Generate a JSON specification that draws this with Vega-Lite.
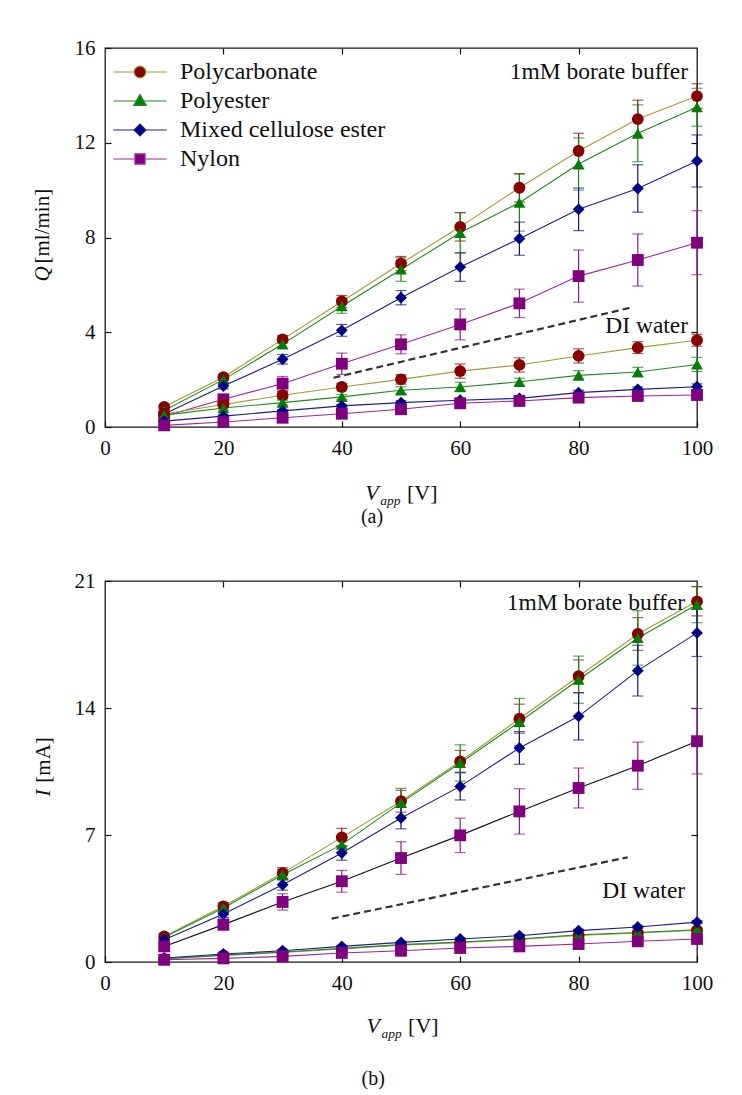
{
  "$schema": "https://vega.github.io/schema/vega-lite/v6.json",
  "padding": {"left": 31, "top": 36, "right": 10, "bottom": 5},
  "background": "white",
  "config": {
    "font": "Liberation Serif",
    "view": {"stroke": "#1a1a1a", "strokeWidth": 1.3},
    "axis": {"domain": false, "grid": false, "labelFont": "Liberation Serif", "labelFontSize": 21, "labelColor": "#111", "tickColor": "#111", "tickSize": -6, "tickWidth": 1.2, "labelPadding": 16, "labelFlush": false},
    "text": {"font": "Liberation Serif", "color": "#111"}
  },
  "datasets": {
    "q": [
      {"V":10,"m":"Polycarbonate","medium":"buffer","v":0.85,"e":0.1},{"V":20,"m":"Polycarbonate","medium":"buffer","v":2.1,"e":0.12},{"V":30,"m":"Polycarbonate","medium":"buffer","v":3.7,"e":0.15},{"V":40,"m":"Polycarbonate","medium":"buffer","v":5.3,"e":0.25},{"V":50,"m":"Polycarbonate","medium":"buffer","v":6.9,"e":0.3},{"V":60,"m":"Polycarbonate","medium":"buffer","v":8.45,"e":0.6},{"V":70,"m":"Polycarbonate","medium":"buffer","v":10.1,"e":0.6},{"V":80,"m":"Polycarbonate","medium":"buffer","v":11.65,"e":0.75},{"V":90,"m":"Polycarbonate","medium":"buffer","v":13.0,"e":0.8},{"V":100,"m":"Polycarbonate","medium":"buffer","v":13.97,"e":0.52},
      {"V":10,"m":"Polyester","medium":"buffer","v":0.7,"e":0.1},{"V":20,"m":"Polyester","medium":"buffer","v":2.0,"e":0.12},{"V":30,"m":"Polyester","medium":"buffer","v":3.5,"e":0.2},{"V":40,"m":"Polyester","medium":"buffer","v":5.1,"e":0.3},{"V":50,"m":"Polyester","medium":"buffer","v":6.65,"e":0.5},{"V":60,"m":"Polyester","medium":"buffer","v":8.2,"e":0.85},{"V":70,"m":"Polyester","medium":"buffer","v":9.47,"e":1.2},{"V":80,"m":"Polyester","medium":"buffer","v":11.1,"e":1.1},{"V":90,"m":"Polyester","medium":"buffer","v":12.4,"e":1.2},{"V":100,"m":"Polyester","medium":"buffer","v":13.5,"e":0.8},
      {"V":10,"m":"Mixed cellulose ester","medium":"buffer","v":0.55,"e":0.08},{"V":20,"m":"Mixed cellulose ester","medium":"buffer","v":1.73,"e":0.12},{"V":30,"m":"Mixed cellulose ester","medium":"buffer","v":2.86,"e":0.2},{"V":40,"m":"Mixed cellulose ester","medium":"buffer","v":4.08,"e":0.25},{"V":50,"m":"Mixed cellulose ester","medium":"buffer","v":5.46,"e":0.3},{"V":60,"m":"Mixed cellulose ester","medium":"buffer","v":6.75,"e":0.6},{"V":70,"m":"Mixed cellulose ester","medium":"buffer","v":7.95,"e":0.7},{"V":80,"m":"Mixed cellulose ester","medium":"buffer","v":9.19,"e":0.9},{"V":90,"m":"Mixed cellulose ester","medium":"buffer","v":10.07,"e":1.0},{"V":100,"m":"Mixed cellulose ester","medium":"buffer","v":11.23,"e":1.1},
      {"V":10,"m":"Nylon","medium":"buffer","v":0.45,"e":0.08},{"V":20,"m":"Nylon","medium":"buffer","v":1.17,"e":0.15},{"V":30,"m":"Nylon","medium":"buffer","v":1.83,"e":0.3},{"V":40,"m":"Nylon","medium":"buffer","v":2.67,"e":0.45},{"V":50,"m":"Nylon","medium":"buffer","v":3.49,"e":0.4},{"V":60,"m":"Nylon","medium":"buffer","v":4.33,"e":0.65},{"V":70,"m":"Nylon","medium":"buffer","v":5.22,"e":0.6},{"V":80,"m":"Nylon","medium":"buffer","v":6.37,"e":1.1},{"V":90,"m":"Nylon","medium":"buffer","v":7.05,"e":1.1},{"V":100,"m":"Nylon","medium":"buffer","v":7.78,"e":1.35},
      {"V":10,"m":"Polycarbonate","medium":"DI","v":0.55,"e":0.05},{"V":20,"m":"Polycarbonate","medium":"DI","v":0.95,"e":0.1},{"V":30,"m":"Polycarbonate","medium":"DI","v":1.34,"e":0.15},{"V":40,"m":"Polycarbonate","medium":"DI","v":1.69,"e":0.15},{"V":50,"m":"Polycarbonate","medium":"DI","v":2.01,"e":0.2},{"V":60,"m":"Polycarbonate","medium":"DI","v":2.36,"e":0.3},{"V":70,"m":"Polycarbonate","medium":"DI","v":2.62,"e":0.3},{"V":80,"m":"Polycarbonate","medium":"DI","v":3.0,"e":0.3},{"V":90,"m":"Polycarbonate","medium":"DI","v":3.35,"e":0.25},{"V":100,"m":"Polycarbonate","medium":"DI","v":3.66,"e":0.25},
      {"V":10,"m":"Polyester","medium":"DI","v":0.5,"e":0.05},{"V":20,"m":"Polyester","medium":"DI","v":0.8,"e":0.08},{"V":30,"m":"Polyester","medium":"DI","v":1.03,"e":0.1},{"V":40,"m":"Polyester","medium":"DI","v":1.27,"e":0.1},{"V":50,"m":"Polyester","medium":"DI","v":1.55,"e":0.15},{"V":60,"m":"Polyester","medium":"DI","v":1.69,"e":0.2},{"V":70,"m":"Polyester","medium":"DI","v":1.91,"e":0.15},{"V":80,"m":"Polyester","medium":"DI","v":2.18,"e":0.2},{"V":90,"m":"Polyester","medium":"DI","v":2.32,"e":0.2},{"V":100,"m":"Polyester","medium":"DI","v":2.64,"e":0.3},
      {"V":10,"m":"Mixed cellulose ester","medium":"DI","v":0.25,"e":0.04},{"V":20,"m":"Mixed cellulose ester","medium":"DI","v":0.46,"e":0.05},{"V":30,"m":"Mixed cellulose ester","medium":"DI","v":0.68,"e":0.06},{"V":40,"m":"Mixed cellulose ester","medium":"DI","v":0.89,"e":0.06},{"V":50,"m":"Mixed cellulose ester","medium":"DI","v":1.03,"e":0.08},{"V":60,"m":"Mixed cellulose ester","medium":"DI","v":1.13,"e":0.08},{"V":70,"m":"Mixed cellulose ester","medium":"DI","v":1.21,"e":0.1},{"V":80,"m":"Mixed cellulose ester","medium":"DI","v":1.45,"e":0.1},{"V":90,"m":"Mixed cellulose ester","medium":"DI","v":1.59,"e":0.1},{"V":100,"m":"Mixed cellulose ester","medium":"DI","v":1.7,"e":0.12},
      {"V":10,"m":"Nylon","medium":"DI","v":0.07,"e":0.03},{"V":20,"m":"Nylon","medium":"DI","v":0.21,"e":0.04},{"V":30,"m":"Nylon","medium":"DI","v":0.39,"e":0.05},{"V":40,"m":"Nylon","medium":"DI","v":0.56,"e":0.05},{"V":50,"m":"Nylon","medium":"DI","v":0.75,"e":0.06},{"V":60,"m":"Nylon","medium":"DI","v":1.0,"e":0.06},{"V":70,"m":"Nylon","medium":"DI","v":1.1,"e":0.08},{"V":80,"m":"Nylon","medium":"DI","v":1.24,"e":0.08},{"V":90,"m":"Nylon","medium":"DI","v":1.31,"e":0.08},{"V":100,"m":"Nylon","medium":"DI","v":1.35,"e":0.1}
    ],
    "cur": [
      {"V":10,"m":"Polycarbonate","medium":"buffer","v":1.41,"e":0.15},{"V":20,"m":"Polycarbonate","medium":"buffer","v":3.07,"e":0.2},{"V":30,"m":"Polycarbonate","medium":"buffer","v":4.9,"e":0.3},{"V":40,"m":"Polycarbonate","medium":"buffer","v":6.87,"e":0.5},{"V":50,"m":"Polycarbonate","medium":"buffer","v":8.86,"e":0.6},{"V":60,"m":"Polycarbonate","medium":"buffer","v":11.06,"e":0.6},{"V":70,"m":"Polycarbonate","medium":"buffer","v":13.41,"e":0.8},{"V":80,"m":"Polycarbonate","medium":"buffer","v":15.75,"e":0.9},{"V":90,"m":"Polycarbonate","medium":"buffer","v":18.08,"e":0.9},{"V":100,"m":"Polycarbonate","medium":"buffer","v":19.88,"e":0.8},
      {"V":10,"m":"Polyester","medium":"buffer","v":1.36,"e":0.15},{"V":20,"m":"Polyester","medium":"buffer","v":2.98,"e":0.2},{"V":30,"m":"Polyester","medium":"buffer","v":4.81,"e":0.3},{"V":40,"m":"Polyester","medium":"buffer","v":6.47,"e":0.4},{"V":50,"m":"Polyester","medium":"buffer","v":8.77,"e":0.8},{"V":60,"m":"Polyester","medium":"buffer","v":10.97,"e":1.0},{"V":70,"m":"Polyester","medium":"buffer","v":13.23,"e":1.3},{"V":80,"m":"Polyester","medium":"buffer","v":15.56,"e":1.3},{"V":90,"m":"Polyester","medium":"buffer","v":17.86,"e":1.5},{"V":100,"m":"Polyester","medium":"buffer","v":19.7,"e":1.0},
      {"V":10,"m":"Mixed cellulose ester","medium":"buffer","v":1.23,"e":0.1},{"V":20,"m":"Mixed cellulose ester","medium":"buffer","v":2.65,"e":0.2},{"V":30,"m":"Mixed cellulose ester","medium":"buffer","v":4.26,"e":0.3},{"V":40,"m":"Mixed cellulose ester","medium":"buffer","v":6.01,"e":0.4},{"V":50,"m":"Mixed cellulose ester","medium":"buffer","v":7.94,"e":0.6},{"V":60,"m":"Mixed cellulose ester","medium":"buffer","v":9.68,"e":0.75},{"V":70,"m":"Mixed cellulose ester","medium":"buffer","v":11.8,"e":0.9},{"V":80,"m":"Mixed cellulose ester","medium":"buffer","v":13.54,"e":1.3},{"V":90,"m":"Mixed cellulose ester","medium":"buffer","v":16.06,"e":1.4},{"V":100,"m":"Mixed cellulose ester","medium":"buffer","v":18.14,"e":1.3},
      {"V":10,"m":"Nylon","medium":"buffer","v":0.86,"e":0.2},{"V":20,"m":"Nylon","medium":"buffer","v":2.06,"e":0.3},{"V":30,"m":"Nylon","medium":"buffer","v":3.31,"e":0.45},{"V":40,"m":"Nylon","medium":"buffer","v":4.45,"e":0.6},{"V":50,"m":"Nylon","medium":"buffer","v":5.73,"e":0.9},{"V":60,"m":"Nylon","medium":"buffer","v":6.98,"e":0.95},{"V":70,"m":"Nylon","medium":"buffer","v":8.3,"e":1.25},{"V":80,"m":"Nylon","medium":"buffer","v":9.59,"e":1.1},{"V":90,"m":"Nylon","medium":"buffer","v":10.82,"e":1.3},{"V":100,"m":"Nylon","medium":"buffer","v":12.17,"e":1.8},
      {"V":10,"m":"Polycarbonate","medium":"DI","v":0.17,"e":0.04},{"V":20,"m":"Polycarbonate","medium":"DI","v":0.36,"e":0.04},{"V":30,"m":"Polycarbonate","medium":"DI","v":0.52,"e":0.05},{"V":40,"m":"Polycarbonate","medium":"DI","v":0.72,"e":0.05},{"V":50,"m":"Polycarbonate","medium":"DI","v":0.93,"e":0.06},{"V":60,"m":"Polycarbonate","medium":"DI","v":1.07,"e":0.06},{"V":70,"m":"Polycarbonate","medium":"DI","v":1.24,"e":0.07},{"V":80,"m":"Polycarbonate","medium":"DI","v":1.46,"e":0.07},{"V":90,"m":"Polycarbonate","medium":"DI","v":1.6,"e":0.08},{"V":100,"m":"Polycarbonate","medium":"DI","v":1.75,"e":0.08},
      {"V":10,"m":"Polyester","medium":"DI","v":0.18,"e":0.04},{"V":20,"m":"Polyester","medium":"DI","v":0.38,"e":0.04},{"V":30,"m":"Polyester","medium":"DI","v":0.55,"e":0.05},{"V":40,"m":"Polyester","medium":"DI","v":0.75,"e":0.05},{"V":50,"m":"Polyester","medium":"DI","v":0.96,"e":0.06},{"V":60,"m":"Polyester","medium":"DI","v":1.1,"e":0.06},{"V":70,"m":"Polyester","medium":"DI","v":1.27,"e":0.07},{"V":80,"m":"Polyester","medium":"DI","v":1.5,"e":0.07},{"V":90,"m":"Polyester","medium":"DI","v":1.63,"e":0.08},{"V":100,"m":"Polyester","medium":"DI","v":1.78,"e":0.08},
      {"V":10,"m":"Mixed cellulose ester","medium":"DI","v":0.22,"e":0.04},{"V":20,"m":"Mixed cellulose ester","medium":"DI","v":0.44,"e":0.04},{"V":30,"m":"Mixed cellulose ester","medium":"DI","v":0.62,"e":0.05},{"V":40,"m":"Mixed cellulose ester","medium":"DI","v":0.86,"e":0.05},{"V":50,"m":"Mixed cellulose ester","medium":"DI","v":1.08,"e":0.06},{"V":60,"m":"Mixed cellulose ester","medium":"DI","v":1.27,"e":0.06},{"V":70,"m":"Mixed cellulose ester","medium":"DI","v":1.45,"e":0.07},{"V":80,"m":"Mixed cellulose ester","medium":"DI","v":1.73,"e":0.07},{"V":90,"m":"Mixed cellulose ester","medium":"DI","v":1.93,"e":0.08},{"V":100,"m":"Mixed cellulose ester","medium":"DI","v":2.2,"e":0.08},
      {"V":10,"m":"Nylon","medium":"DI","v":0.12,"e":0.03},{"V":20,"m":"Nylon","medium":"DI","v":0.2,"e":0.03},{"V":30,"m":"Nylon","medium":"DI","v":0.31,"e":0.04},{"V":40,"m":"Nylon","medium":"DI","v":0.5,"e":0.04},{"V":50,"m":"Nylon","medium":"DI","v":0.62,"e":0.05},{"V":60,"m":"Nylon","medium":"DI","v":0.77,"e":0.05},{"V":70,"m":"Nylon","medium":"DI","v":0.86,"e":0.06},{"V":80,"m":"Nylon","medium":"DI","v":0.99,"e":0.06},{"V":90,"m":"Nylon","medium":"DI","v":1.14,"e":0.07},{"V":100,"m":"Nylon","medium":"DI","v":1.27,"e":0.07}
    ]
  },
  "spacing": 41,
  "resolve": {"scale": {"color": "independent", "stroke": "independent", "shape": "independent"}},
  "vconcat": [
    {
      "width": 592,
      "height": 379,
      "data": {"name": "q"},
      "resolve": {"scale": {"color": "independent", "stroke": "independent", "shape": "independent"}, "axis": {"x": "independent", "y": "independent"}},
      "layer": [
        {
          "data": {"values": [{"V": 38.6, "v": 2.08}, {"V": 88.8, "v": 5.04}]},
          "mark": {"type": "line", "color": "#333", "strokeDash": [7, 4], "strokeWidth": 2.2},
          "encoding": {
            "x": {"field": "V", "type": "quantitative", "scale": {"domain": [0, 100], "nice": false}, "axis": {"orient": "top", "values": [20, 40, 60, 80], "labels": false, "title": null}},
            "y": {"field": "v", "type": "quantitative", "scale": {"domain": [0, 16], "nice": false}, "axis": {"orient": "right", "values": [4, 8, 12], "labels": false, "title": null}}
          }
        },
        {
          "mark": {"type": "line", "strokeWidth": 1.1},
          "encoding": {
            "x": {"field": "V", "type": "quantitative", "scale": {"domain": [0, 100], "nice": false}, "axis": {"orient": "bottom", "values": [0, 20, 40, 60, 80, 100], "title": null}},
            "y": {"field": "v", "type": "quantitative", "scale": {"domain": [0, 16], "nice": false}, "axis": {"orient": "left", "values": [0, 4, 8, 12, 16], "title": null}},
            "stroke": {"field": "m", "type": "nominal", "scale": {"domain": ["Polycarbonate", "Polyester", "Mixed cellulose ester", "Nylon"], "range": ["#a89a2c", "#1d8f1d", "#1c1c96", "#a424a4"]}, "legend": null},
            "detail": {"field": "medium"}
          }
        },
        {
          "mark": {"type": "errorbar", "ticks": {"size": 11}, "thickness": 1.2},
          "encoding": {
            "x": {"field": "V", "type": "quantitative", "scale": {"domain": [0, 100], "nice": false}, "axis": null},
            "y": {"field": "v", "type": "quantitative", "scale": {"domain": [0, 16], "nice": false}, "axis": null},
            "yError": {"field": "e"},
            "color": {"field": "m", "type": "nominal", "scale": {"domain": ["Polycarbonate", "Polyester", "Mixed cellulose ester", "Nylon"], "range": ["#9a1010", "#138a13", "#12128c", "#941894"]}, "legend": null}
          }
        },
        {
          "mark": {"type": "point", "filled": true, "size": 140, "opacity": 1},
          "encoding": {
            "x": {"field": "V", "type": "quantitative", "scale": {"domain": [0, 100], "nice": false}, "axis": null},
            "y": {"field": "v", "type": "quantitative", "scale": {"domain": [0, 16], "nice": false}, "axis": null},
            "shape": {"field": "m", "type": "nominal", "scale": {"domain": ["Polycarbonate", "Polyester", "Mixed cellulose ester", "Nylon"], "range": ["circle", "triangle-up", "diamond", "square"]}, "legend": null},
            "color": {"field": "m", "type": "nominal", "scale": {"domain": ["Polycarbonate", "Polyester", "Mixed cellulose ester", "Nylon"], "range": ["#8b0000", "#008000", "#00008b", "#800080"]}, "legend": null}
          }
        },
        {
          "mark": {"type": "point", "filled": true, "size": 140, "opacity": 0, "strokeWidth": 1.2},
          "encoding": {
            "x": {"field": "V", "type": "quantitative", "scale": {"domain": [0, 100], "nice": false}, "axis": null},
            "y": {"field": "v", "type": "quantitative", "scale": {"domain": [0, 16], "nice": false}, "axis": null},
            "shape": {"field": "m", "type": "nominal", "scale": {"domain": ["Polycarbonate", "Polyester", "Mixed cellulose ester", "Nylon"], "range": ["M-4.5,0H-1M1,0H4.5M-1,0A1,1,0,1,1,1,0A1,1,0,1,1,-1,0Z", "M-4.5,0H-0.7M0.7,0H4.5M0,-1.1L1.05,0.75L-1.05,0.75Z", "M-4.5,0H-1M1,0H4.5M0,-1L1,0L0,1L-1,0Z", "M-4.5,0H-0.85M0.85,0H4.5M-0.85,-0.85H0.85V0.85H-0.85Z"]},
              "legend": {"title": null, "orient": "none", "legendX": 23, "legendY": 12, "padding": 0, "labelFont": "Liberation Serif", "labelFontSize": 24, "labelColor": "#111", "labelLimit": 400, "symbolSize": 140, "labelOffset": 28, "rowPadding": 5, "symbolStrokeWidth": 1.2, "symbolOpacity": 1}},
            "color": {"field": "m", "type": "nominal", "scale": {"domain": ["Polycarbonate", "Polyester", "Mixed cellulose ester", "Nylon"], "range": ["#8b0000", "#008000", "#00008b", "#800080"]},
              "legend": {"title": null, "orient": "none", "legendX": 23, "legendY": 12, "padding": 0, "labelFont": "Liberation Serif", "labelFontSize": 24, "labelColor": "#111", "labelLimit": 400, "symbolSize": 140, "labelOffset": 28, "rowPadding": 5, "symbolStrokeWidth": 1.2, "symbolOpacity": 1}},
            "stroke": {"field": "m", "type": "nominal", "scale": {"domain": ["Polycarbonate", "Polyester", "Mixed cellulose ester", "Nylon"], "range": ["#a89a2c", "#1d8f1d", "#1c1c96", "#a424a4"]},
              "legend": {"title": null, "orient": "none", "legendX": 23, "legendY": 12, "padding": 0, "labelFont": "Liberation Serif", "labelFontSize": 24, "labelColor": "#111", "labelLimit": 400, "symbolSize": 140, "labelOffset": 28, "rowPadding": 5, "symbolStrokeWidth": 1.2, "symbolOpacity": 1}}
          }
        },
        {
          "data": {"values": [{}]},
          "mark": {"type": "text", "text": "1mM borate buffer", "align": "right", "baseline": "middle", "fontSize": 23.5},
          "encoding": {"x": {"datum": 98.5, "type": "quantitative", "scale": {"domain": [0, 100], "nice": false}, "axis": null}, "y": {"datum": 15.0, "type": "quantitative", "scale": {"domain": [0, 16], "nice": false}, "axis": null}}
        },
        {
          "data": {"values": [{}]},
          "mark": {"type": "text", "text": "DI water", "align": "right", "baseline": "middle", "fontSize": 23.5},
          "encoding": {"x": {"datum": 98.5, "type": "quantitative", "scale": {"domain": [0, 100], "nice": false}, "axis": null}, "y": {"datum": 4.25, "type": "quantitative", "scale": {"domain": [0, 16], "nice": false}, "axis": null}}
        },
        {
          "data": {"values": [{}]},
          "mark": {"type": "text", "text": "V", "align": "center", "baseline": "middle", "fontSize": 22, "fontStyle": "italic"},
          "encoding": {"x": {"datum": 45.1, "type": "quantitative", "scale": {"domain": [0, 100], "nice": false}, "axis": null}, "y": {"datum": -2.79, "type": "quantitative", "scale": {"domain": [0, 16], "nice": false}, "axis": null}}
        },
        {
          "data": {"values": [{}]},
          "mark": {"type": "text", "text": "app", "align": "left", "baseline": "middle", "fontSize": 13.5, "fontStyle": "italic"},
          "encoding": {"x": {"datum": 46.5, "type": "quantitative", "scale": {"domain": [0, 100], "nice": false}, "axis": null}, "y": {"datum": -3.12, "type": "quantitative", "scale": {"domain": [0, 16], "nice": false}, "axis": null}}
        },
        {
          "data": {"values": [{}]},
          "mark": {"type": "text", "text": "[V]", "align": "left", "baseline": "middle", "fontSize": 22},
          "encoding": {"x": {"datum": 51.0, "type": "quantitative", "scale": {"domain": [0, 100], "nice": false}, "axis": null}, "y": {"datum": -2.79, "type": "quantitative", "scale": {"domain": [0, 16], "nice": false}, "axis": null}}
        },
        {
          "data": {"values": [{}]},
          "mark": {"type": "text", "text": "(a)", "align": "center", "baseline": "middle", "fontSize": 20},
          "encoding": {"x": {"datum": 45.1, "type": "quantitative", "scale": {"domain": [0, 100], "nice": false}, "axis": null}, "y": {"datum": -3.8, "type": "quantitative", "scale": {"domain": [0, 16], "nice": false}, "axis": null}}
        },
        {
          "data": {"values": [{}]},
          "mark": {"type": "text", "text": "Q", "align": "center", "baseline": "middle", "fontSize": 21, "fontStyle": "italic", "angle": 270},
          "encoding": {"x": {"datum": -10.5, "type": "quantitative", "scale": {"domain": [0, 100], "nice": false}, "axis": null}, "y": {"datum": 6.46, "type": "quantitative", "scale": {"domain": [0, 16], "nice": false}, "axis": null}}
        },
        {
          "data": {"values": [{}]},
          "mark": {"type": "text", "text": "[ml/min]", "align": "center", "baseline": "middle", "fontSize": 21, "angle": 270},
          "encoding": {"x": {"datum": -10.5, "type": "quantitative", "scale": {"domain": [0, 100], "nice": false}, "axis": null}, "y": {"datum": 8.48, "type": "quantitative", "scale": {"domain": [0, 16], "nice": false}, "axis": null}}
        }
      ]
    },
    {
      "width": 592,
      "height": 381,
      "data": {"name": "cur"},
      "resolve": {"scale": {"color": "independent", "stroke": "independent", "shape": "independent"}, "axis": {"x": "independent", "y": "independent"}},
      "layer": [
        {
          "data": {"values": [{"V": 38.3, "v": 2.39}, {"V": 88.3, "v": 5.77}]},
          "mark": {"type": "line", "color": "#333", "strokeDash": [7, 4], "strokeWidth": 2.2},
          "encoding": {
            "x": {"field": "V", "type": "quantitative", "scale": {"domain": [0, 100], "nice": false}, "axis": {"orient": "top", "values": [20, 40, 60, 80], "labels": false, "title": null}},
            "y": {"field": "v", "type": "quantitative", "scale": {"domain": [0, 21], "nice": false}, "axis": {"orient": "right", "values": [7, 14], "labels": false, "title": null}}
          }
        },
        {
          "transform": [{"filter": "!(datum.m === 'Nylon' && datum.medium === 'buffer')"}],
          "mark": {"type": "line", "strokeWidth": 1.1},
          "encoding": {
            "x": {"field": "V", "type": "quantitative", "scale": {"domain": [0, 100], "nice": false}, "axis": {"orient": "bottom", "values": [0, 20, 40, 60, 80, 100], "title": null}},
            "y": {"field": "v", "type": "quantitative", "scale": {"domain": [0, 21], "nice": false}, "axis": {"orient": "left", "values": [0, 7, 14, 21], "title": null}},
            "stroke": {"field": "m", "type": "nominal", "scale": {"domain": ["Polycarbonate", "Polyester", "Mixed cellulose ester", "Nylon"], "range": ["#a89a2c", "#1d8f1d", "#1c1c96", "#a424a4"]}, "legend": null},
            "detail": {"field": "medium"}
          }
        },
        {
          "transform": [{"filter": "datum.m === 'Nylon' && datum.medium === 'buffer'"}],
          "mark": {"type": "line", "strokeWidth": 1.1, "color": "#111"},
          "encoding": {
            "x": {"field": "V", "type": "quantitative", "scale": {"domain": [0, 100], "nice": false}, "axis": null},
            "y": {"field": "v", "type": "quantitative", "scale": {"domain": [0, 21], "nice": false}, "axis": null}
          }
        },
        {
          "mark": {"type": "errorbar", "ticks": {"size": 11}, "thickness": 1.2},
          "encoding": {
            "x": {"field": "V", "type": "quantitative", "scale": {"domain": [0, 100], "nice": false}, "axis": null},
            "y": {"field": "v", "type": "quantitative", "scale": {"domain": [0, 21], "nice": false}, "axis": null},
            "yError": {"field": "e"},
            "color": {"field": "m", "type": "nominal", "scale": {"domain": ["Polycarbonate", "Polyester", "Mixed cellulose ester", "Nylon"], "range": ["#9a1010", "#138a13", "#12128c", "#941894"]}, "legend": null}
          }
        },
        {
          "mark": {"type": "point", "filled": true, "size": 140, "opacity": 1},
          "encoding": {
            "x": {"field": "V", "type": "quantitative", "scale": {"domain": [0, 100], "nice": false}, "axis": null},
            "y": {"field": "v", "type": "quantitative", "scale": {"domain": [0, 21], "nice": false}, "axis": null},
            "shape": {"field": "m", "type": "nominal", "scale": {"domain": ["Polycarbonate", "Polyester", "Mixed cellulose ester", "Nylon"], "range": ["circle", "triangle-up", "diamond", "square"]}, "legend": null},
            "color": {"field": "m", "type": "nominal", "scale": {"domain": ["Polycarbonate", "Polyester", "Mixed cellulose ester", "Nylon"], "range": ["#8b0000", "#008000", "#00008b", "#800080"]}, "legend": null}
          }
        },
        {
          "data": {"values": [{}]},
          "mark": {"type": "text", "text": "1mM borate buffer", "align": "right", "baseline": "middle", "fontSize": 23.5},
          "encoding": {"x": {"datum": 98.0, "type": "quantitative", "scale": {"domain": [0, 100], "nice": false}, "axis": null}, "y": {"datum": 19.79, "type": "quantitative", "scale": {"domain": [0, 21], "nice": false}, "axis": null}}
        },
        {
          "data": {"values": [{}]},
          "mark": {"type": "text", "text": "DI water", "align": "right", "baseline": "middle", "fontSize": 23.5},
          "encoding": {"x": {"datum": 98.0, "type": "quantitative", "scale": {"domain": [0, 100], "nice": false}, "axis": null}, "y": {"datum": 3.9, "type": "quantitative", "scale": {"domain": [0, 21], "nice": false}, "axis": null}}
        },
        {
          "data": {"values": [{}]},
          "mark": {"type": "text", "text": "V", "align": "center", "baseline": "middle", "fontSize": 22, "fontStyle": "italic"},
          "encoding": {"x": {"datum": 45.3, "type": "quantitative", "scale": {"domain": [0, 100], "nice": false}, "axis": null}, "y": {"datum": -3.53, "type": "quantitative", "scale": {"domain": [0, 21], "nice": false}, "axis": null}}
        },
        {
          "data": {"values": [{}]},
          "mark": {"type": "text", "text": "app", "align": "left", "baseline": "middle", "fontSize": 13.5, "fontStyle": "italic"},
          "encoding": {"x": {"datum": 46.7, "type": "quantitative", "scale": {"domain": [0, 100], "nice": false}, "axis": null}, "y": {"datum": -3.97, "type": "quantitative", "scale": {"domain": [0, 21], "nice": false}, "axis": null}}
        },
        {
          "data": {"values": [{}]},
          "mark": {"type": "text", "text": "[V]", "align": "left", "baseline": "middle", "fontSize": 22},
          "encoding": {"x": {"datum": 51.2, "type": "quantitative", "scale": {"domain": [0, 100], "nice": false}, "axis": null}, "y": {"datum": -3.53, "type": "quantitative", "scale": {"domain": [0, 21], "nice": false}, "axis": null}}
        },
        {
          "data": {"values": [{}]},
          "mark": {"type": "text", "text": "(b)", "align": "center", "baseline": "middle", "fontSize": 20},
          "encoding": {"x": {"datum": 45.3, "type": "quantitative", "scale": {"domain": [0, 100], "nice": false}, "axis": null}, "y": {"datum": -6.45, "type": "quantitative", "scale": {"domain": [0, 21], "nice": false}, "axis": null}}
        },
        {
          "data": {"values": [{}]},
          "mark": {"type": "text", "text": "I", "align": "center", "baseline": "middle", "fontSize": 21, "fontStyle": "italic", "angle": 270},
          "encoding": {"x": {"datum": -10.3, "type": "quantitative", "scale": {"domain": [0, 100], "nice": false}, "axis": null}, "y": {"datum": 9.32, "type": "quantitative", "scale": {"domain": [0, 21], "nice": false}, "axis": null}}
        },
        {
          "data": {"values": [{}]},
          "mark": {"type": "text", "text": "[mA]", "align": "center", "baseline": "middle", "fontSize": 21, "angle": 270},
          "encoding": {"x": {"datum": -10.3, "type": "quantitative", "scale": {"domain": [0, 100], "nice": false}, "axis": null}, "y": {"datum": 11.14, "type": "quantitative", "scale": {"domain": [0, 21], "nice": false}, "axis": null}}
        }
      ]
    }
  ]
}
